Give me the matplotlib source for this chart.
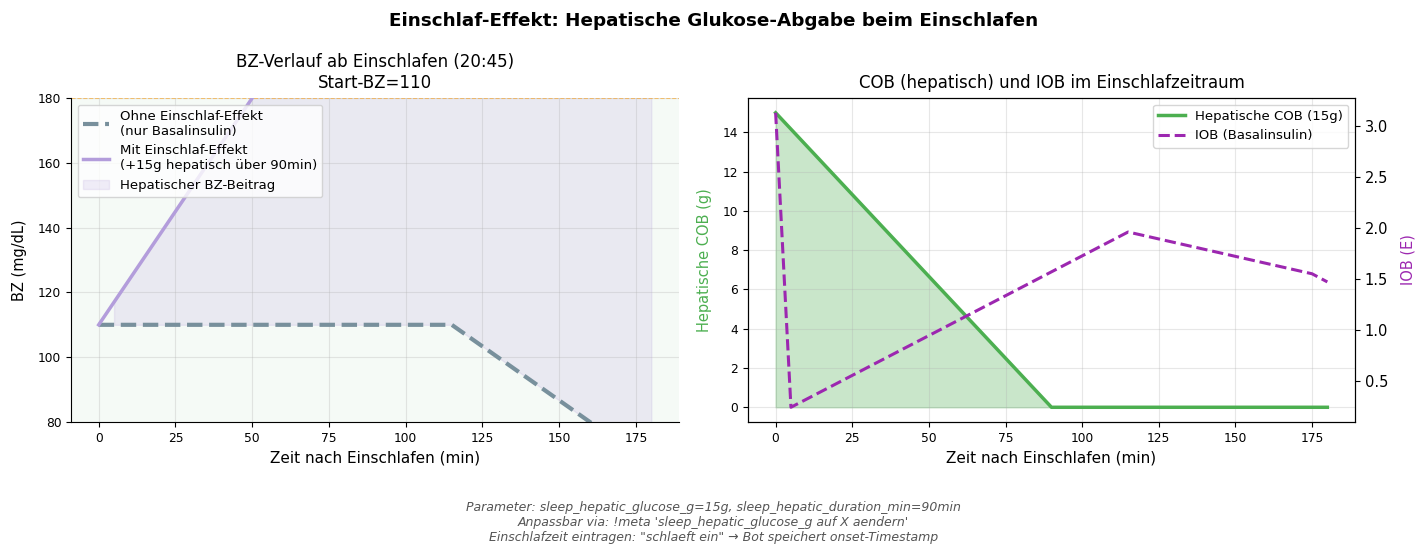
import matplotlib
matplotlib.use("Agg")
import matplotlib.pyplot as plt
import numpy as np

# BZ-Verlauf (Stuetzstellen, min nach Einschlafen)
t_bz = [0, 5, 50, 90, 115, 160, 180]
bz_ohne = [110, 110, 110, 110, 110, 80, 66.7]
bz_mit = [110, 117, 180, 236, 236, 206, 192.7]

# COB / IOB
t_cob = [0, 90, 180]
cob = [15, 0, 0]
t_iob = [0, 5, 115, 175, 180]
iob = [3.13, 0.24, 1.96, 1.55, 1.47]

ziel_oben = 180

fig = plt.figure(figsize=(14.27, 5.56), dpi=100)
ax1 = fig.add_axes([0.0498, 0.241, 0.426, 0.5827])
ax2 = fig.add_axes([0.5242, 0.241, 0.4253, 0.5827])

# --- linkes Panel ---
ax1.axhspan(70, ziel_oben, color="#4caf50", alpha=0.05, lw=0)
ax1.axhline(ziel_oben, color="#ff9800", ls="--", lw=0.8, alpha=0.5)
ax1.plot(t_bz, bz_ohne, color="#78909c", ls="--", lw=3,
         label="Ohne Einschlaf-Effekt\n(nur Basalinsulin)")
ax1.plot(t_bz, bz_mit, color="#b39ddb", lw=2.5,
         label="Mit Einschlaf-Effekt\n(+15g hepatisch über 90min)")
ax1.fill_between(t_bz, bz_ohne, bz_mit,
                 where=np.array(bz_mit) > np.array(bz_ohne),
                 color="#9575cd", alpha=0.12, label="Hepatischer BZ-Beitrag")
ax1.set_ylim(80, 180)
ax1.set_xlim(-9, 189)
ax1.set_xlabel("Zeit nach Einschlafen (min)", fontsize=11)
ax1.set_ylabel("BZ (mg/dL)", fontsize=10.5, labelpad=8)
ax1.set_title("BZ-Verlauf ab Einschlafen (20:45)\nStart-BZ=110", fontsize=12, pad=7.5)
ax1.tick_params(labelsize=8.8)
ax1.grid(True, alpha=0.3)
ax1.spines["top"].set_visible(False)
ax1.spines["right"].set_visible(False)
ax1.legend(loc="upper left", fontsize=9.5)

# --- rechtes Panel ---
ax2.plot(t_cob, cob, color="#4caf50", lw=2.5, label="Hepatische COB (15g)")
ax2.fill_between(t_cob, 0, cob, color="#4caf50", alpha=0.3)
ax2.set_xlim(-9, 189)
ax2.set_xlabel("Zeit nach Einschlafen (min)", fontsize=11)
ax2.set_ylabel("Hepatische COB (g)", color="#4caf50", fontsize=10.5, labelpad=8)
ax2.set_title("COB (hepatisch) und IOB im Einschlafzeitraum", fontsize=12, pad=7.5)
ax2.tick_params(labelsize=8.8)
ax2.grid(True, alpha=0.3)

ax3 = ax2.twinx()
ax3.plot(t_iob, iob, color="#9c27b0", ls="--", lw=2.2, label="IOB (Basalinsulin)")
ax3.set_ylabel("IOB (E)", color="#9c27b0", fontsize=10.5, labelpad=9)
ax3.tick_params(labelsize=10.5)

h1, l1 = ax2.get_legend_handles_labels()
h2, l2 = ax3.get_legend_handles_labels()
ax2.legend(h1 + h2, l1 + l2, loc="upper right", fontsize=9.5)

fig.suptitle("Einschlaf-Effekt: Hepatische Glukose-Abgabe beim Einschlafen",
             fontsize=13.2, fontweight="bold", y=0.978)
fig.text(0.5, 0.061,
         "Parameter: sleep_hepatic_glucose_g=15g, sleep_hepatic_duration_min=90min\n"
         "Anpassbar via: !meta 'sleep_hepatic_glucose_g auf X aendern'\n"
         "Einschlafzeit eintragen: \"schlaeft ein\" \u2192 Bot speichert onset-Timestamp",
         ha="center", va="center", fontsize=9, style="italic", color="#555555")

fig.savefig("out.png", dpi=100)
